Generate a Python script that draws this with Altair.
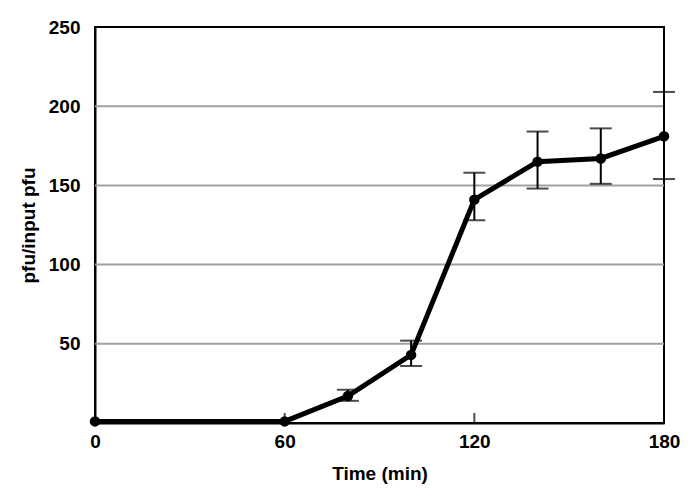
import altair as alt
import pandas as pd

time_min = [0, 60, 80, 100, 120, 140, 160, 180]
pfu = [1, 1, 17, 43, 141, 165, 167, 181]
err_low = [None, None, 14, 36, 128, 148, 151, 154]
err_high = [None, None, 21, 52, 158, 184, 186, 209]
x_ticks = [0, 60, 120, 180]
y_ticks = [50, 100, 150, 200, 250]
grid_vals = [50, 100, 150, 200]

df = pd.DataFrame({"t": time_min, "v": pfu, "lo": err_low, "hi": err_high})
edf = df.dropna()
tick_df = pd.DataFrame({"t": x_ticks[1:3]})

FONT = "Liberation Sans"

xs = alt.Scale(domain=[0, 180], nice=False)
ys = alt.Scale(domain=[0, 250], nice=False)

x_enc = alt.X("t:Q", scale=xs, title="Time (min)",
              axis=alt.Axis(values=x_ticks, grid=False, ticks=False, domain=True,
                            domainColor="black", domainWidth=2, labelFlush=False,
                            labelFont=FONT, labelFontSize=19, labelFontWeight="bold",
                            labelColor="black", labelPadding=9,
                            titleFont=FONT, titleFontSize=19, titleFontWeight="bold",
                            titleColor="black", titlePadding=13))
y_enc = alt.Y("v:Q", scale=ys, title="pfu/input pfu",
              axis=alt.Axis(values=y_ticks, grid=False, ticks=False, domain=True,
                            domainColor="black", domainWidth=2, labelFlush=False,
                            labelFont=FONT, labelFontSize=19, labelFontWeight="bold",
                            labelColor="black", labelPadding=15,
                            titleFont=FONT, titleFontSize=19, titleFontWeight="bold",
                            titleColor="black", titlePadding=10))

grid = alt.Chart(pd.DataFrame({"g": grid_vals})).mark_rule(
    color="#a0a0a0", strokeWidth=2).encode(y=alt.Y("g:Q", scale=ys))

base = alt.Chart(df)
line = base.mark_line(color="black", strokeWidth=5).encode(x=x_enc, y=y_enc)
pts = base.mark_circle(color="black", opacity=1, size=110).encode(
    x=alt.X("t:Q", scale=xs), y=alt.Y("v:Q", scale=ys))

ebase = alt.Chart(edf)
ebar = ebase.mark_rule(color="black", strokeWidth=2).encode(
    x=alt.X("t:Q", scale=xs), y=alt.Y("lo:Q", scale=ys), y2="hi:Q")
cap_lo = ebase.mark_tick(color="black", orient="horizontal", size=22, thickness=2).encode(
    x=alt.X("t:Q", scale=xs), y=alt.Y("lo:Q", scale=ys))
cap_hi = ebase.mark_tick(color="black", orient="horizontal", size=22, thickness=2).encode(
    x=alt.X("t:Q", scale=xs), y=alt.Y("hi:Q", scale=ys))

xt = alt.Chart(tick_df).mark_tick(color="black", orient="vertical", size=10,
                                  thickness=2, yOffset=-5).encode(
    x=alt.X("t:Q", scale=xs), y=alt.datum(0, scale=ys))

chart = alt.layer(grid, xt, ebar, cap_lo, cap_hi, line, pts).properties(
    width=569, height=396,
    autosize=alt.AutoSizeParams(type="none"),
    padding={"left": 87, "top": 19, "right": 20, "bottom": 70},
    background="white",
).configure_view(stroke="black", strokeWidth=2)

chart.save("out.html", embed_options={"renderer": "svg", "actions": False})
